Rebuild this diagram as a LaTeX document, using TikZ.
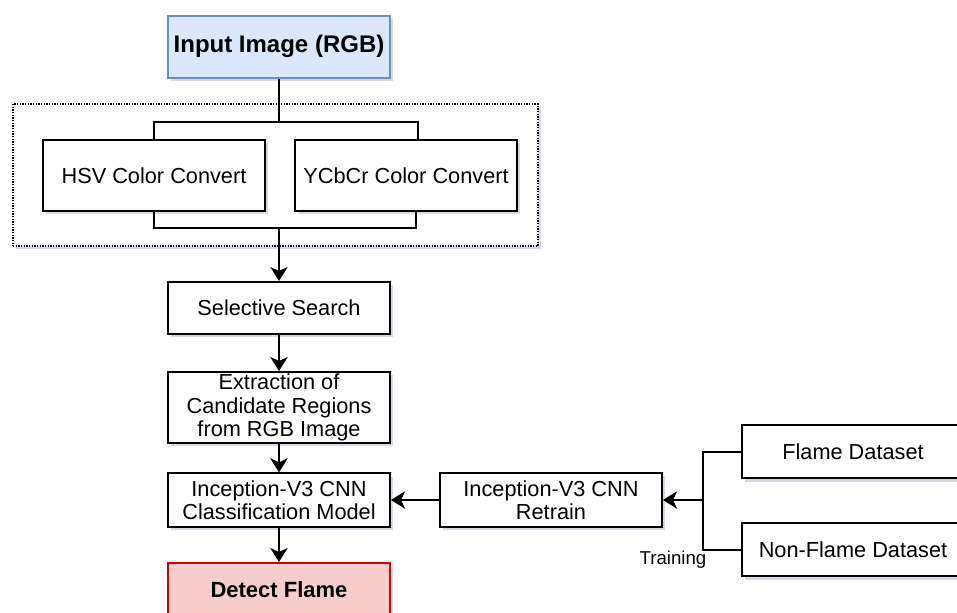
\documentclass[tikz,border=0pt]{standalone}
\usepackage{fontspec}
\setmainfont{Liberation Sans}
\usetikzlibrary{arrows.meta,shadows}
\definecolor{inpfill}{HTML}{DAE8FC}
\definecolor{inpdraw}{HTML}{6C8EBF}
\definecolor{detfill}{HTML}{F8CECC}
\definecolor{detdraw}{HTML}{D80000}
\definecolor{shadowc}{RGB}{140,145,185}
\tikzset{
  sh/.style={drop shadow={shadow xshift=2.5pt, shadow yshift=-2.5pt, fill=shadowc, opacity=0.35}},
  box/.style={draw=black, line width=1.5pt, fill=white, align=center, inner sep=0pt,
    font=\fontsize{16.3}{17.5}\selectfont, minimum width=166.5pt, sh},
  grpbox/.style={draw=black, line width=0.8pt, dash pattern=on 1pt off 1pt, fill=white, inner sep=0pt, sh},
  conn/.style={line width=1.5pt, draw=black},
  arr/.style={conn, -{Stealth[length=10.5pt,width=13pt,inset=3pt]}},
}
\begin{document}
\begin{tikzpicture}[x=0.75pt,y=-0.75pt]
\useasboundingbox[fill=white] (0,0) rectangle (957,612);
% group container
\node[grpbox, minimum width=393.75pt, minimum height=106.5pt] (grp) at (275.5,175) {};
% nodes
\node[box, fill=inpfill, draw=inpdraw, minimum height=46.5pt, font=\bfseries\fontsize{18}{20}\selectfont] (inp) at (279,46.5) {Input Image (RGB)};
\node[box, minimum height=53.25pt] (hsv) at (154,175.5) {HSV Color Convert};
\node[box, minimum height=53.25pt] (ycc) at (406,175.5) {YCbCr Color Convert};
\node[box, minimum height=39pt] (ss) at (279,308) {Selective Search};
\node[box, minimum height=53.25pt] (ext) at (279,407.5) {Extraction of\\Candidate Regions\\from RGB Image};
\node[box, minimum height=40pt] (cls) at (279,500) {Inception-V3 CNN\\Classification Model};
\node[box, fill=detfill, draw=detdraw, minimum height=40.5pt, font=\bfseries\fontsize{16.5}{18}\selectfont] (det) at (279,590) {Detect Flame};
\node[box, minimum height=40.5pt] (ret) at (551,500) {Inception-V3 CNN\\Retrain};
\node[box, minimum height=40pt] (fd) at (853,451.5) {Flame Dataset};
\node[box, minimum height=40pt] (nfd) at (853,549.5) {Non-Flame Dataset};
\node[font=\fontsize{14}{16}\selectfont, inner sep=0pt] (trn) at (673,560) {Training};
% junctions
\coordinate (tj) at (279,122);
\coordinate (bj) at (279,228);
\coordinate (rj) at (703,500);
% connectors
\draw[conn] (inp.south) -- (tj);
\draw[conn] (hsv.north) |- (tj) -| ([xshift=9pt]ycc.north);
\draw[conn] (hsv.south) |- (bj) -| ([xshift=7.5pt]ycc.south);
\draw[arr] (bj) -- (ss.north);
\draw[arr] (ss.south) -- (ext.north);
\draw[arr] (ext.south) -- (cls.north);
\draw[arr] (cls.south) -- (det.north);
\draw[arr] (ret.west) -- (cls.east);
\draw[conn] (fd.west) -| (rj) |- (nfd.west);
\draw[arr] (rj) -- (ret.east);
\end{tikzpicture}
\end{document}
